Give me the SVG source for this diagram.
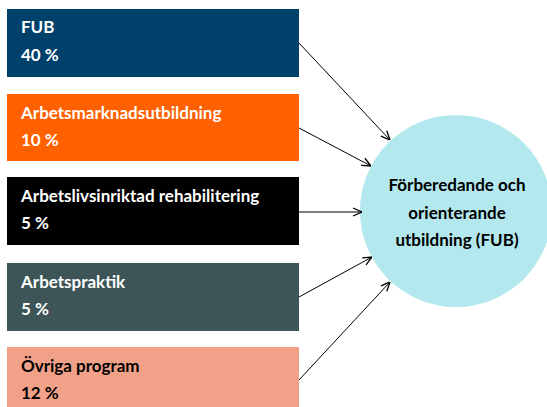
<svg xmlns="http://www.w3.org/2000/svg" width="547" height="407" viewBox="0 0 547 407">
<style>
.t{font-family:Lato,"Liberation Sans",sans-serif;font-weight:700;font-size:17px}
.w{fill:#ffffff}
.k{fill:#000000}
.c{text-anchor:middle}
.conn line{stroke:#000;stroke-width:1}
</style>
<defs>
<marker id="arr" viewBox="0 0 10 10" refX="10" refY="5" markerWidth="10" markerHeight="10" markerUnits="userSpaceOnUse" orient="auto">
<path d="M1,1 L10,5 L1,9" fill="none" stroke="#000" stroke-width="1.3"/>
</marker>
</defs>
<rect width="547" height="407" fill="#ffffff"/>
<g id="target">
<circle cx="456" cy="211" r="96" fill="#b3e8ee"/>
<text class="t k c" x="457" y="191">Förberedande och</text>
<text class="t k c" x="457" y="219">orienterande</text>
<text class="t k c" x="457" y="246">utbildning (FUB)</text>
</g>
<g id="fub">
<rect x="7" y="9" width="292" height="68" fill="#00416c"/>
<text class="t w" x="21" y="33">FUB</text>
<text class="t w" x="21" y="61">40 %</text>
</g>
<g id="arbetsmarknadsutbildning">
<rect x="7" y="94" width="292" height="67" fill="#ff6000"/>
<text class="t w" x="21" y="119">Arbetsmarknadsutbildning</text>
<text class="t w" x="21" y="146">10 %</text>
</g>
<g id="rehabilitering">
<rect x="7" y="177" width="292" height="68" fill="#000000"/>
<text class="t w" x="21" y="202">Arbetslivsinriktad rehabilitering</text>
<text class="t w" x="21" y="229">5 %</text>
</g>
<g id="arbetspraktik">
<rect x="7" y="263" width="292" height="68" fill="#3d5556"/>
<text class="t w" x="21" y="288">Arbetspraktik</text>
<text class="t w" x="21" y="315">5 %</text>
</g>
<g id="ovriga">
<rect x="7" y="347" width="292" height="62" fill="#f2a189"/>
<text class="t k" x="21" y="372">Övriga program</text>
<text class="t k" x="21" y="399">12 %</text>
</g>
<g class="conn" id="connectors">
<line x1="299" y1="43" x2="390" y2="140" marker-end="url(#arr)"/>
<line x1="299" y1="128" x2="371" y2="166" marker-end="url(#arr)"/>
<line x1="299" y1="212" x2="362" y2="212" marker-end="url(#arr)"/>
<line x1="299" y1="297" x2="372" y2="257" marker-end="url(#arr)"/>
<line x1="299" y1="380" x2="390" y2="282" marker-end="url(#arr)"/>
</g>
</svg>
